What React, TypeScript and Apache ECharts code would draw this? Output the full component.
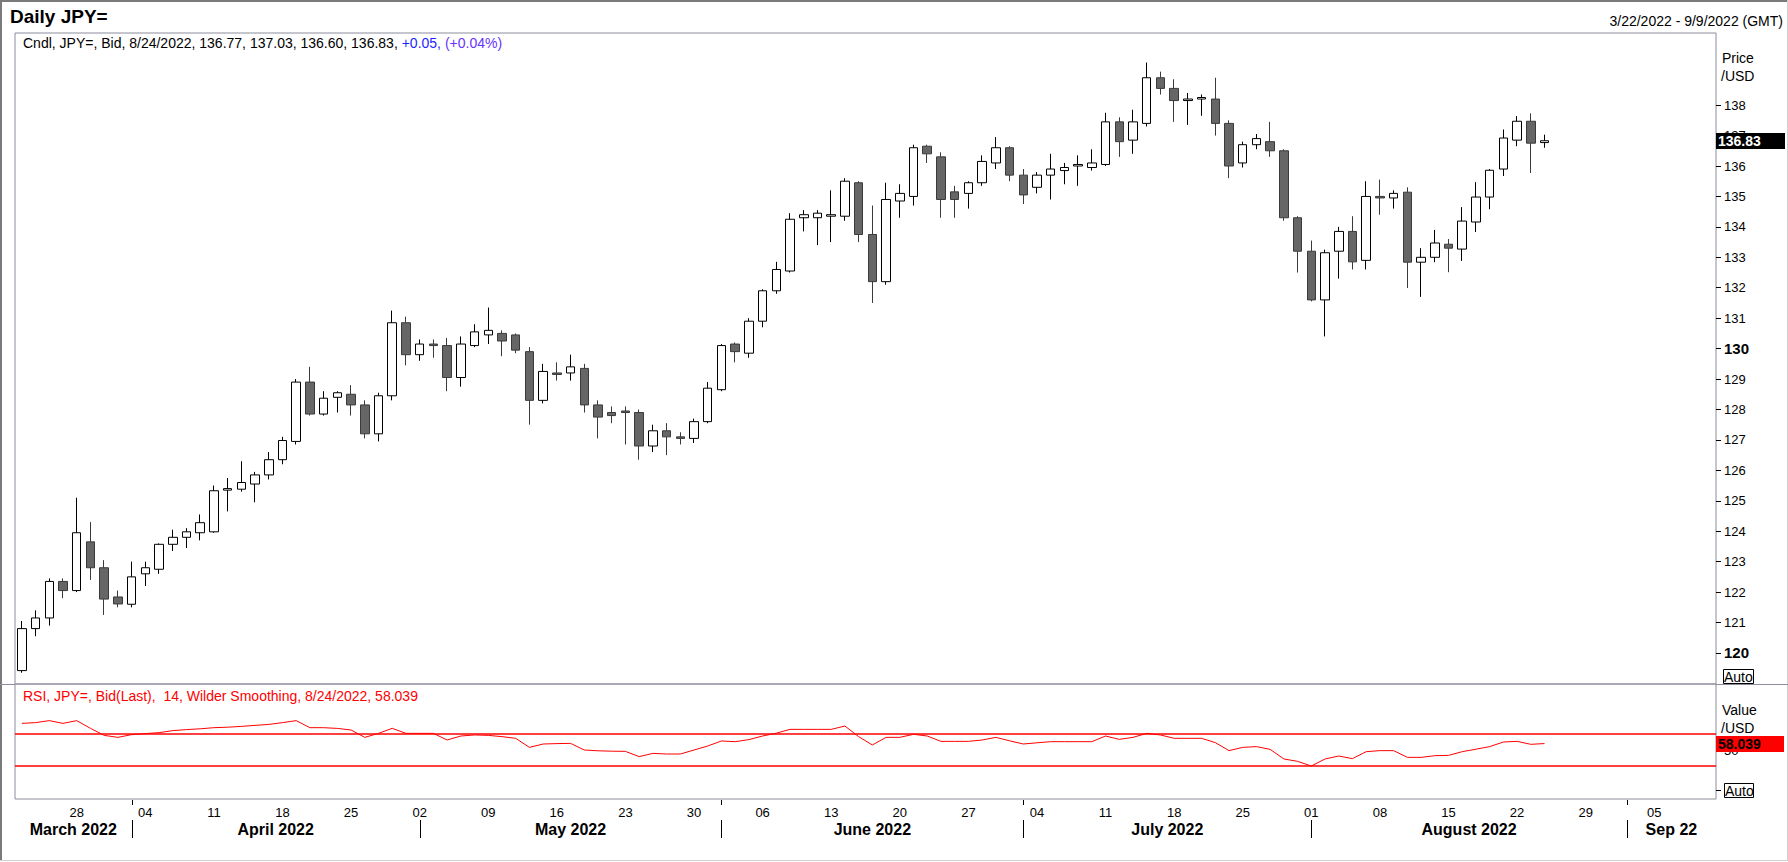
import React, { useEffect, useRef } from "react";
import * as echarts from "echarts";

const START_DATE = "2022-03-22";
const END_DATE = "2022-09-09";

const OPEN = [
  119.42, 120.8, 121.15, 122.35, 122.05, 123.65, 122.8, 121.84, 121.6, 122.6,
  122.75, 123.57, 123.8, 123.95, 123.98, 125.35, 125.38, 125.55, 125.85, 126.35,
  126.95, 128.9, 127.85, 128.4, 128.5, 128.15, 127.2, 128.45, 130.85, 129.8,
  130.15, 130.1, 129.05, 130.1, 130.45, 130.5, 130.45, 129.9, 128.3, 129.2,
  129.2, 129.35, 128.15, 127.9, 127.95, 127.9, 126.8, 127.3, 127.1, 127.05,
  127.6, 128.65, 130.15, 129.85, 130.9, 131.9, 132.55, 134.3, 134.3, 134.35,
  134.35, 135.45, 133.75, 132.2, 134.85, 135.0, 136.65, 136.3, 135.15, 135.1,
  135.45, 136.1, 136.6, 135.7, 135.3, 135.7, 135.85, 136.0, 135.95, 136.05,
  137.45, 136.85, 137.4, 138.9, 138.55, 138.15, 138.2, 138.2, 137.4, 136.1,
  136.7, 136.8, 136.5, 134.3, 133.2, 131.6, 133.2, 133.85, 132.9, 135.0,
  134.95, 135.14, 132.84, 133.0, 133.43, 133.27, 134.16, 134.98, 135.9, 136.85,
  137.47, 136.77,
];
const CLOSE = [
  120.8, 121.15, 122.35, 122.05, 123.95, 122.8, 121.77, 121.61, 122.5, 122.8,
  123.57, 123.8, 123.98, 124.28, 125.33, 125.4, 125.6, 125.85, 126.35, 126.98,
  128.9, 127.85, 128.37, 128.55, 128.15, 127.2, 128.45, 130.85, 129.8, 130.15,
  130.1, 129.05, 130.15, 130.55, 130.6, 130.25, 129.95, 128.3, 129.25, 129.15,
  129.4, 128.15, 127.75, 127.8, 127.9, 126.8, 127.3, 127.1, 127.05, 127.6,
  128.7, 130.1, 129.9, 130.9, 131.9, 132.6, 134.25, 134.4, 134.45, 134.4,
  135.5, 133.75, 132.2, 134.9, 135.1, 136.6, 136.4, 134.9, 134.9, 135.45,
  136.15, 136.6, 135.7, 135.05, 135.7, 135.9, 135.95, 136.05, 136.1, 137.45,
  136.8, 137.45, 138.9, 138.55, 138.15, 138.2, 138.25, 137.4, 136.0, 136.7,
  136.9, 136.5, 134.3, 133.2, 131.6, 133.15, 133.85, 132.85, 135.0, 134.95,
  135.1, 132.84, 133.0, 133.47, 133.3, 134.19, 134.98, 135.86, 136.92, 137.47,
  136.75, 136.83,
];
const LOW = [
  119.35, 120.55, 120.9, 121.8, 122.0, 122.4, 121.25, 121.5, 121.5, 122.2,
  122.6, 123.35, 123.45, 123.7, 123.95, 124.65, 125.3, 124.95, 125.7, 126.2,
  126.85, 127.8, 127.8, 127.9, 127.8, 127.05, 126.95, 128.3, 129.45, 129.6,
  129.7, 128.6, 128.75, 130.05, 130.15, 129.75, 129.85, 127.5, 128.2, 128.95,
  128.95, 127.9, 127.05, 127.55, 126.85, 126.35, 126.6, 126.5, 126.85, 126.9,
  127.55, 128.6, 129.55, 129.7, 130.7, 131.8, 132.5, 133.85, 133.4, 133.5,
  134.2, 133.5, 131.5, 132.1, 134.3, 134.7, 136.1, 134.3, 134.3, 134.6,
  135.35, 135.9, 135.5, 134.75, 135.1, 134.9, 135.4, 135.35, 135.85, 136.0,
  136.3, 136.4, 137.3, 138.35, 137.45, 137.35, 137.65, 137.0, 135.6, 135.95,
  136.55, 136.3, 134.2, 132.5, 131.55, 130.4, 132.3, 132.6, 132.6, 134.4,
  134.6, 131.99, 131.7, 132.84, 132.51, 132.88, 133.83, 134.58, 135.67, 136.65,
  135.77, 136.6,
];
const HIGH = [
  121.05, 121.4, 122.45, 122.45, 125.1, 124.3, 123.05, 122.05, 123.0, 123.0,
  123.6, 124.05, 124.1, 124.55, 125.5, 125.75, 126.3, 125.95, 126.6, 127.1,
  129.0, 129.4, 128.6, 128.6, 128.8, 128.3, 128.55, 131.25, 131.05, 130.3,
  130.3, 130.35, 130.4, 130.8, 131.35, 130.6, 130.5, 130.05, 129.5, 129.55,
  129.8, 129.5, 128.3, 128.1, 128.1, 128.0, 127.5, 127.55, 127.25, 127.7,
  128.9, 130.15, 130.2, 131.0, 131.95, 132.85, 134.45, 134.55, 134.55, 135.2,
  135.6, 135.5, 134.7, 135.45, 135.4, 136.7, 136.7, 136.45, 135.35, 135.5,
  136.35, 136.95, 136.65, 135.9, 135.8, 136.4, 136.1, 136.35, 136.55, 137.75,
  137.6, 137.85, 139.4, 139.1, 138.85, 138.4, 138.35, 138.9, 137.5, 136.8,
  137.05, 137.45, 136.55, 134.35, 133.55, 133.25, 134.0, 134.35, 135.5, 135.55,
  135.2, 135.3, 133.3, 133.9, 133.6, 134.65, 135.47, 135.9, 137.2, 137.64,
  137.73, 137.03,
];
const RSI = [
  83.3, 84.2, 86.7, 83.3, 86.7, 77.1, 68.3, 65.8, 69.2, 70.5,
  71.7, 74.2, 75.5, 76.5, 77.9, 78.5, 79.5, 80.8, 82.0, 84.2,
  86.7, 77.9, 77.9, 77.0, 75.0, 65.8, 70.8, 77.1, 70.8, 70.8,
  70.8, 62.5, 67.5, 68.8, 68.3, 66.7, 64.6, 53.3, 57.5, 58.0,
  58.3, 50.0, 49.0, 48.5, 48.3, 41.7, 45.8, 45.0, 45.0, 50.0,
  55.0, 61.3, 60.4, 63.0, 67.5, 71.0, 75.8, 75.8, 75.8, 75.8,
  80.0, 66.7, 56.3, 65.8, 65.8, 69.6, 67.5, 60.8, 60.8, 60.8,
  62.5, 65.8, 61.5, 57.5, 59.0, 60.4, 60.4, 60.4, 60.4, 67.5,
  63.3, 65.8, 70.8, 68.8, 64.6, 64.6, 64.6, 59.2, 49.2, 53.3,
  54.2, 50.8, 38.8, 35.8, 30.0, 38.8, 42.5, 39.2, 47.9, 49.2,
  49.2, 40.8, 40.8, 42.9, 43.3, 47.9, 51.0, 54.2, 60.0, 60.8,
  57.1, 58.039,
];

const PRICE_TICKS = [120, 121, 122, 123, 124, 125, 126, 127, 128, 129, 130, 131, 132, 133, 134, 135, 136, 137, 138];
const PRICE_MIN = 118.98;
const PRICE_MAX = 140.37;
const RSI_TICKS = [0, 50];
const RSI_LABELS = [50];
const RSI_MIN = -11.25;
const RSI_MAX = 132.5;
const RSI_BANDS = [70, 30];
const MONTH_NAMES = ["March 2022", "April 2022", "May 2022", "June 2022", "July 2022", "August 2022", "Sep 22"];

const TITLE = "Daily JPY=";
const RANGE_TEXT = "3/22/2022 - 9/9/2022 (GMT)";
const LAST_DATE = "8/24/2022";
const LAST_OHLC = [136.77, 137.03, 136.6, 136.83];
const LAST_CHANGE = "+0.05";
const LAST_PCT = "(+0.04%)";
const RSI_LAST = 58.039;

const FONT = 'Arial, "Liberation Sans", Helvetica, sans-serif';
const FRAME = "#8c8c9c";

function weekdays(start: string, end: string): string[] {
  const out: string[] = [];
  const d = new Date(start + "T00:00:00Z");
  const e = new Date(end + "T00:00:00Z");
  while (d.getTime() <= e.getTime()) {
    const wd = d.getUTCDay();
    if (wd !== 0 && wd !== 6) out.push(d.toISOString().slice(0, 10));
    d.setUTCDate(d.getUTCDate() + 1);
  }
  return out;
}
const DATES = weekdays(START_DATE, END_DATE);
const isMonday = (s: string) => new Date(s + "T00:00:00Z").getUTCDay() === 1;

const W = 1788;
const H = 862;
const GRID_LEFT = 15;
const GRID_RIGHT = 1716;
const PRICE_TOP = 33;
const SEP_Y = 684;
const RSI_BOTTOM = 799;

export default function App() {
  const ref = useRef<HTMLDivElement>(null);
  useEffect(() => {
    if (!ref.current) return;
    const chart = echarts.init(ref.current, null, { renderer: "svg" });
    const candles = OPEN.map((o, i) => [o, CLOSE[i], LOW[i], HIGH[i]]);
    chart.setOption({
      animation: false,
      backgroundColor: "#ffffff",
      textStyle: { fontFamily: FONT },
      grid: [
        { left: GRID_LEFT, right: W - GRID_RIGHT, top: PRICE_TOP, height: SEP_Y - PRICE_TOP, show: true, borderColor: FRAME, borderWidth: 1, containLabel: false },
        { left: GRID_LEFT, right: W - GRID_RIGHT, top: SEP_Y, height: RSI_BOTTOM - SEP_Y, show: true, borderColor: FRAME, borderWidth: 1, containLabel: false },
      ],
      xAxis: [
        { gridIndex: 0, type: "category", data: DATES, boundaryGap: true, show: false },
        {
          gridIndex: 1,
          type: "category",
          data: DATES,
          boundaryGap: true,
          axisLine: { show: false },
          axisTick: { show: false },
          splitLine: { show: false },
          axisLabel: {
            interval: (_i: number, v: string) => isMonday(v),
            formatter: (v: string) => v.slice(8, 10),
            margin: 7,
            fontSize: 13,
            color: "#000",
            fontFamily: FONT,
          },
        },
      ],
      yAxis: [
        {
          gridIndex: 0,
          type: "value",
          position: "right",
          min: PRICE_MIN,
          max: PRICE_MAX,
          axisLine: { show: false },
          splitLine: { show: false },
          axisTick: { show: true, length: 5, lineStyle: { color: "#000" }, customValues: PRICE_TICKS },
          axisLabel: {
            customValues: PRICE_TICKS,
            margin: 8,
            color: "#000",
            fontFamily: FONT,
            formatter: (v: number) => (Math.round(v) % 10 === 0 ? `{b|${Math.round(v)}}` : `{n|${Math.round(v)}}`),
            rich: {
              b: { fontSize: 15, fontWeight: "bold", color: "#000", fontFamily: FONT },
              n: { fontSize: 13, color: "#000", fontFamily: FONT },
            },
          },
        },
        {
          gridIndex: 1,
          type: "value",
          position: "right",
          min: RSI_MIN,
          max: RSI_MAX,
          axisLine: { show: false },
          splitLine: { show: false },
          axisTick: { show: true, length: 5, lineStyle: { color: "#000" }, customValues: RSI_TICKS },
          axisLabel: { customValues: RSI_LABELS, margin: 8, color: "#000", fontSize: 13, fontFamily: FONT },
        },
      ],
      series: [
        {
          type: "candlestick",
          xAxisIndex: 0,
          yAxisIndex: 0,
          data: candles,
          barWidth: 9,
          itemStyle: { color: "#ffffff", color0: "#666666", borderColor: "#000000", borderColor0: "#3a3a3a", borderWidth: 1 },
        },
        {
          type: "line",
          xAxisIndex: 1,
          yAxisIndex: 1,
          data: RSI,
          symbol: "none",
          lineStyle: { color: "#ff0000", width: 1 },
          markLine: {
            silent: true,
            symbol: ["none", "none"],
            label: { show: false },
            lineStyle: { color: "#ff0000", width: 1.5, type: "solid" },
            data: RSI_BANDS.map((v) => ({ yAxis: v })),
          },
        },
      ],
    });

    const px = (i: number) => chart.convertToPixel({ xAxisIndex: 1 }, DATES[i]) as number;
    const band = px(1) - px(0);
    const left = px(0) - band / 2;
    const right = px(DATES.length - 1) + band / 2;
    const monthStarts: number[] = [];
    DATES.forEach((d, i) => {
      if (i === 0 || d.slice(5, 7) !== DATES[i - 1].slice(5, 7)) monthStarts.push(i);
    });
    const seps = monthStarts.map((i, k) => (k === 0 ? left : px(i)));
    const g: any[] = [];
    monthStarts.forEach((mi, k) => {
      const x0 = seps[k];
      const x1 = k + 1 < seps.length ? seps[k + 1] : right;
      g.push({
        type: "text",
        x: (x0 + x1) / 2,
        y: 829,
        style: { text: MONTH_NAMES[k], fill: "#000", fontSize: 16, fontWeight: "bold", fontFamily: FONT, align: "center", verticalAlign: "middle" },
      });
      if (k > 0) {
        g.push({ type: "line", shape: { x1: Math.round(x0) + 0.5, y1: 820, x2: Math.round(x0) + 0.5, y2: 838 }, style: { stroke: "#000", lineWidth: 1 } });
        if (!isMonday(DATES[mi])) {
          g.push({ type: "line", shape: { x1: Math.round(x0) + 0.5, y1: 800, x2: Math.round(x0) + 0.5, y2: 805 }, style: { stroke: "#000", lineWidth: 1 } });
        }
      }
    });

    const lastClose = LAST_OHLC[3];
    const yClose = chart.convertToPixel({ yAxisIndex: 0 }, lastClose) as number;
    const yRsi = chart.convertToPixel({ yAxisIndex: 1 }, RSI_LAST) as number;

    const text = (x: number, y: number, t: string, extra: any = {}) => ({
      type: "text",
      x,
      y,
      z: 100,
      style: { text: t, fill: "#000", fontSize: 14, fontFamily: FONT, align: "left", verticalAlign: "middle", ...extra },
    });

    g.push(
      // outer frame
      { type: "line", shape: { x1: 0, y1: 1, x2: W, y2: 1 }, style: { stroke: "#7a7a7a", lineWidth: 2 } },
      { type: "line", shape: { x1: 1, y1: 0, x2: 1, y2: 861 }, style: { stroke: "#7a7a7a", lineWidth: 2 } },
      { type: "line", shape: { x1: 0, y1: 860.5, x2: W, y2: 860.5 }, style: { stroke: "#cfcfcf", lineWidth: 1 } },
      { type: "line", shape: { x1: W - 0.5, y1: 0, x2: W - 0.5, y2: 861 }, style: { stroke: "#cfcfcf", lineWidth: 1 } },
      // separator extensions
      { type: "line", shape: { x1: 0, y1: SEP_Y + 0.5, x2: GRID_LEFT, y2: SEP_Y + 0.5 }, style: { stroke: FRAME, lineWidth: 1 } },
      { type: "line", shape: { x1: GRID_RIGHT, y1: SEP_Y + 0.5, x2: W, y2: SEP_Y + 0.5 }, style: { stroke: FRAME, lineWidth: 1 } },
      text(10, 16, TITLE, { fontSize: 19, fontWeight: "bold" }),
      text(1783, 21, RANGE_TEXT, { align: "right" }),
      {
        type: "text",
        x: 23,
        y: 43,
        z: 100,
        style: {
          text: `{k|Cndl, JPY=, Bid, ${LAST_DATE}, ${LAST_OHLC.map((v) => v.toFixed(2)).join(", ")}, }{c|${LAST_CHANGE}, }{p|${LAST_PCT}}`,
          fontSize: 14,
          fontFamily: FONT,
          verticalAlign: "middle",
          rich: {
            k: { fill: "#000", color: "#000", fontSize: 14, fontFamily: FONT },
            c: { fill: "#1f1fff", color: "#1f1fff", fontSize: 14, fontFamily: FONT },
            p: { fill: "#6633ff", color: "#6633ff", fontSize: 14, fontFamily: FONT },
          },
        },
      },
      text(23, 696, `RSI, JPY=, Bid(Last),  14, Wilder Smoothing, ${LAST_DATE}, ${RSI_LAST.toFixed(3)}`, { fill: "#ff0000" }),
      text(1722, 58, "Price"),
      text(1721, 76, "/USD"),
      text(1722, 710, "Value"),
      text(1721, 728, "/USD"),
      // Auto boxes
      { type: "rect", z: 100, shape: { x: 1723.5, y: 669.5, width: 30, height: 14 }, style: { fill: "#fff", stroke: "#000", lineWidth: 1 } },
      text(1724, 677, "Auto", { z: 101 }),
      { type: "rect", z: 100, shape: { x: 1724.5, y: 783.5, width: 29, height: 14 }, style: { fill: "#fff", stroke: "#000", lineWidth: 1 } },
      text(1725, 791, "Auto"),
      // last price box
      { type: "rect", z: 100, shape: { x: GRID_RIGHT, y: Math.round(yClose) - 8, width: 69, height: 16 }, style: { fill: "#000" } },
      text(GRID_RIGHT + 2, Math.round(yClose), lastClose.toFixed(2), { fill: "#fff", fontWeight: "bold" }),
      // last RSI box
      { type: "rect", z: 100, shape: { x: GRID_RIGHT, y: Math.round(yRsi) - 8, width: 68, height: 16 }, style: { fill: "#ff0000" } },
      text(GRID_RIGHT + 2, Math.round(yRsi), RSI_LAST.toFixed(3), { fill: "#000", fontWeight: "bold" })
    );

    chart.setOption({ graphic: g.map((e) => ({ z: 100, ...e })) });
    return () => chart.dispose();
  }, []);
  return <div ref={ref} style={{ position: "absolute", left: 0, top: 0, width: W, height: H, background: "#fff" }} />;
}
